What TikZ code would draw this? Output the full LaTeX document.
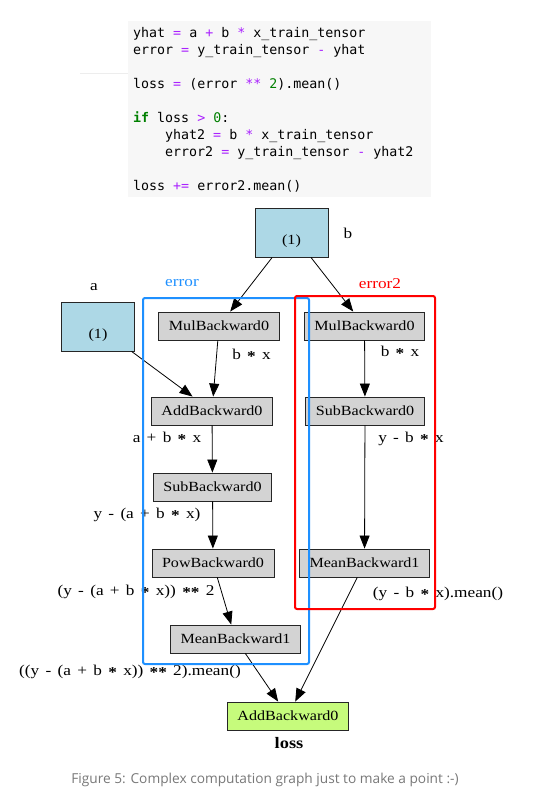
\documentclass[tikz,border=0pt]{standalone}
\usepackage{fontspec}
\usepackage{xcolor}
\usepackage{tikz}
\usetikzlibrary{arrows.meta,positioning}
\newfontfamily\gvfont[FakeStretch=1.15]{Liberation Serif}
\newfontfamily\codefont{DejaVu Sans Mono}
\newfontfamily\capfont{Open Sans}
\definecolor{leafblue}{HTML}{ADD8E6}
\definecolor{opgray}{HTML}{D3D3D3}
\definecolor{lossgreen}{HTML}{C6FB7C}
\definecolor{errblue}{HTML}{1E90FF}
\definecolor{errred}{HTML}{FF0000}
\definecolor{codebg}{HTML}{F7F7F7}
\definecolor{codeop}{HTML}{AA22FF}
\definecolor{codenum}{HTML}{008000}
\newcommand{\cop}[1]{{\color{codeop}#1}}
\newcommand{\cnum}[1]{{\color{codenum}#1}}
\newcommand{\ckw}[1]{{\bfseries\color{codenum}#1}}
\newcommand{\lblfont}{\gvfont\fontsize{15}{17}\selectfont\setlength{\spaceskip}{6.3pt}}
\newcommand{\gvstar}{\raisebox{-0.3ex}{\bfseries *}}

\begin{document}
\begin{tikzpicture}[x=1pt,y=-1pt,>={Triangle[length=13pt,width=10pt]},
    codeline/.style={anchor=base west,inner sep=0pt,font=\codefont\fontsize{13.3}{16}\selectfont},
    fnbox/.style={draw=black!85,line width=0.9pt,fill=opgray,minimum height=28pt,
      inner xsep=10pt,inner ysep=0pt,font=\gvfont\fontsize{14}{16}\selectfont},
    leafbox/.style={draw=black!85,line width=0.9pt,fill=leafblue,minimum width=73pt,
      minimum height=49pt,inner sep=0pt,align=center,font=\gvfont\fontsize{14}{16}\selectfont},
    edgelbl/.style={inner sep=0pt,font=\lblfont},
    flow/.style={->,line width=0.8pt,black}]
  \useasboundingbox (0,0) rectangle (538,798);

  % code cell
  \fill[codebg] (128,21) rectangle (431,197);
  \draw[black!7,line width=1pt] (80,73) -- (128,73);
  \node[codeline] (c1) at (133,37) {yhat \cop{=} a \cop{+} b \cop{*} x\_train\_tensor};
  \node[codeline] (c2) at (133,54) {error \cop{=} y\_train\_tensor \cop{-} yhat};
  \node[codeline] (c3) at (133,88) {loss \cop{=} (error \cop{**} \cnum{2}).mean()};
  \node[codeline] (c4) at (133,122) {\ckw{if} loss \cop{>} \cnum{0}:};
  \node[codeline] (c5) at (165,139) {yhat2 \cop{=} b \cop{*} x\_train\_tensor};
  \node[codeline] (c6) at (165,156) {error2 \cop{=} y\_train\_tensor \cop{-} yhat2};
  \node[codeline] (c7) at (133,190) {loss \cop{+=} error2.mean()};

  % leaves
  \node[leafbox] (b) at (291.5,232.5) {\strut\\(1)};
  \node[leafbox] (a) at (98,326.5) {\strut\\(1)};
  \node[edgelbl] (blbl) at (348,233) {b};
  \node[edgelbl] (albl) at (94,287) {a};

  % backward ops
  \node[fnbox] (mulL) at (219,326) {MulBackward0};
  \node[fnbox] (addL) at (212,411) {AddBackward0};
  \node[fnbox] (subL) at (212.5,487) {SubBackward0};
  \node[fnbox] (pow) at (213,563) {PowBackward0};
  \node[fnbox] (meanL) at (235.5,639) {MeanBackward1};
  \node[fnbox] (mulR) at (364.5,326) {MulBackward0};
  \node[fnbox] (subR) at (365,411) {SubBackward0};
  \node[fnbox] (meanR) at (364.5,563) {MeanBackward1};
  \node[fnbox,fill=lossgreen] (loss) at (288,716) {AddBackward0};
  \node[edgelbl,font=\gvfont\bfseries\fontsize{16}{18}\selectfont] (losslbl) at (289,743) {loss};

  \draw[flow] (b) -- (mulL);
  \draw[flow] (b) -- (mulR);
  \draw[flow] (a) -- (addL);
  \draw[flow] (mulL) -- (addL);
  \draw[flow] (addL) -- (subL);
  \draw[flow] (subL) -- (pow);
  \draw[flow] (pow) -- (meanL);
  \draw[flow] (meanL) -- (loss);
  \draw[flow] (mulR) -- (subR);
  \draw[flow] (subR) -- (meanR);
  \draw[flow] (meanR) -- (loss);

  % edge labels
  \node[edgelbl] (l1) at (251.5,355) {b \gvstar{} x};
  \node[edgelbl] (l2) at (167,438) {a + b \gvstar{} x};
  \node[edgelbl] (l3) at (147,515) {y - (a + b \gvstar{} x)};
  \node[edgelbl] (l4) at (136,592) {(y - (a + b \gvstar{} x)) \gvstar\gvstar{} 2};
  \node[edgelbl] (l5) at (130,672) {((y - (a + b \gvstar{} x)) \gvstar\gvstar{} 2).mean()};
  \node[edgelbl] (r1) at (400,352) {b \gvstar{} x};
  \node[edgelbl] (r2) at (411,439) {y - b \gvstar{} x};
  \node[edgelbl] (r3) at (438,594) {(y - b \gvstar{} x).mean()};

  % clusters
  \draw[errblue,line width=2pt,rounded corners=2pt] (143,298) rectangle (309,664);
  \draw[errred,line width=2pt,rounded corners=2pt] (295,296) rectangle (435,609);
  \node[edgelbl,text=errblue] (errlbl) at (182,283) {error};
  \node[edgelbl,text=errred] (err2lbl) at (380,284) {error2};

  \node[inner sep=0pt,text=black!53,font=\capfont\fontsize{13.7}{15}\selectfont] (caption) at (265,780)
    {Figure 5: Complex computation graph just to make a point :-)};
\end{tikzpicture}
\end{document}
